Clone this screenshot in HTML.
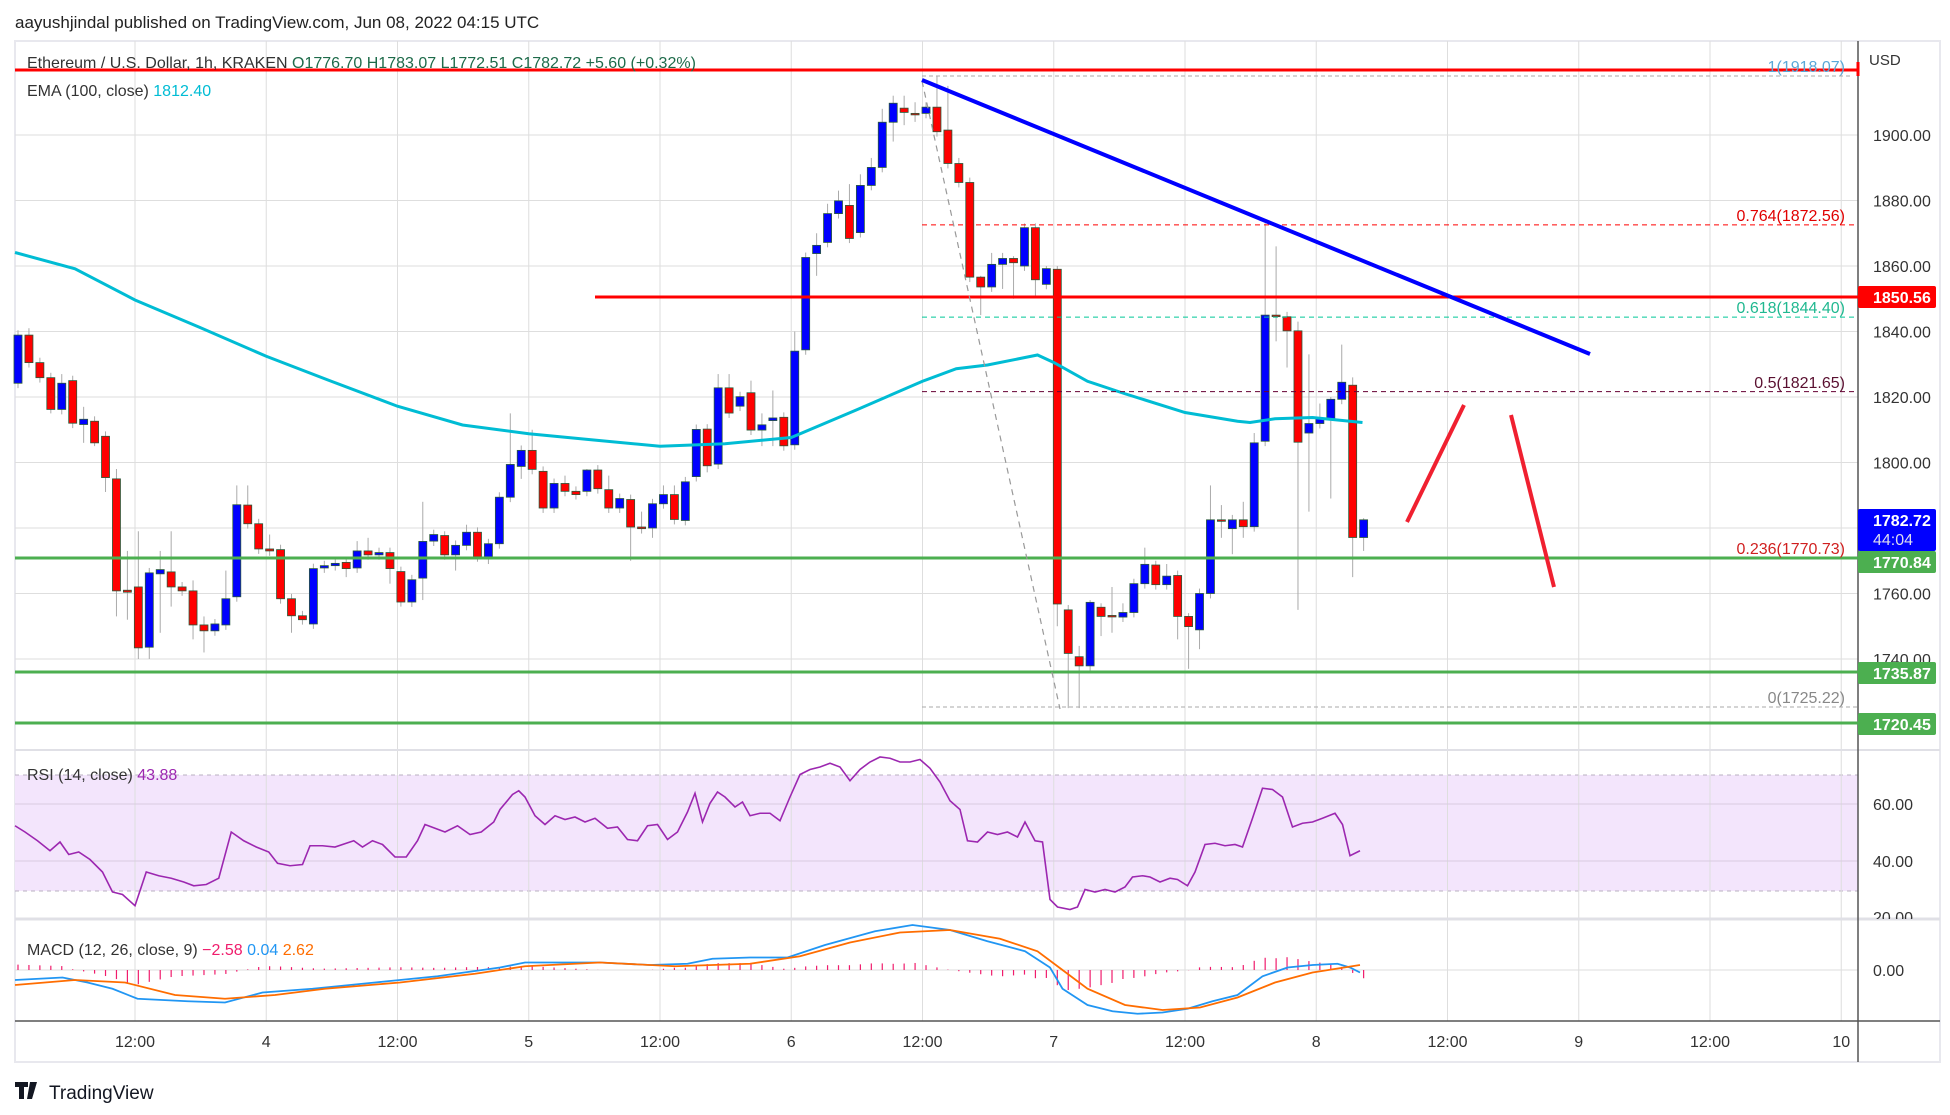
<!DOCTYPE html>
<html><head><meta charset="utf-8"><style>
html,body{margin:0;padding:0;background:#fff;width:1950px;height:1115px;overflow:hidden}
svg{display:block}
text{font-family:"Liberation Sans",sans-serif}
</style></head><body>
<svg id="s" width="1950" height="1115" xmlns="http://www.w3.org/2000/svg"></svg>
<script>
const S=document.getElementById('s');let h='';
const X0=15,AX=1858,RX=1940;
const yP=p=>135+(1900-p)*3.275;
const yR=r=>804+(60-r)*2.85;
const xT=hr=>266.25+hr*10.9375;
function L(x1,y1,x2,y2,c,w,d){h+=`<line x1="${x1}" y1="${y1}" x2="${x2}" y2="${y2}" stroke="${c}" stroke-width="${w||1}" ${d?`stroke-dasharray="${d}"`:''}/>`}
function T(x,y,t,c,sz,a,extra){h+=`<text x="${x}" y="${y}" fill="${c}" font-size="${sz}" ${a?`text-anchor="${a}"`:''} ${extra||''}>${t}</text>`}
// frame
h+=`<rect x="${X0}" y="41" width="${RX-X0}" height="1021" fill="none" stroke="#e8e8ee" stroke-width="2"/>`;
// RSI band
h+=`<rect x="${X0}" y="775" width="${AX-X0}" height="116" fill="#f3e5fc"/>`;
L(X0,775,AX,775,'#b8b0c0',1,'4 4');L(X0,891,AX,891,'#b8b0c0',1,'4 4');
// vertical grid
for(let k=-1;k<=12;k++){const x=xT(k*12);if(x>X0&&x<AX){L(x,41,x,1021,'#dedede',1)}}
// horizontal grid price
for(let p=1740;p<=1900;p+=20)L(X0,yP(p),AX,yP(p),'#dedede',1);
L(X0,804,AX,804,'#d8cce0');L(X0,861,AX,861,'#d8cce0');
L(X0,970,AX,970,'#dedede');
// separators
L(X0,750,RX,750,'#e0e0e6',2);L(X0,919,RX,919,'#e0e0e6',3);
L(X0,1021,RX,1021,'#555',1.5);L(AX,41,AX,1062,'#555',1.5);
// time labels
const tl=['12:00','4','12:00','5','12:00','6','12:00','7','12:00','8','12:00','9','12:00','10'];
tl.forEach((t,i)=>{T(xT(-12+i*12),1047,t,'#333',16,'middle')});
// header
T(15,28,'aayushjindal published on TradingView.com, Jun 08, 2022 04:15 UTC','#222',17);
// candles
const C=[[1824.2,1838.9],[1838.9,1830.5,1841],[1830.5,1825.9],[1825.9,1816.2,0,1815],[1816.2,1824.2,1827],[1825,1812],[1811.6,1813.2,1817,1806],[1812.6,1806,0,1805],[1808,1795.4,0,1791],[1795,1760.8,1798,1753],[1761,1760.4,1773,1752],[1762,1743.4,1779,1740],[1743.6,1766.3,0,1740],[1766,1767.3,1773,1748],[1766.6,1762,1779,1756],[1762,1760.8],[1760.8,1750.4,1764,1746],[1750.4,1748.6,1753,1742],[1748.6,1750.7],[1750.4,1758.4,1767],[1759,1787.1,1793],[1787,1781.3,1793],[1781.3,1773.6],[1773.6,1773,1778],[1773.4,1758.4],[1758.4,1753.2,0,1748],[1753.2,1752],[1750.7,1767.6],[1767.8,1768.5],[1768.5,1769.2],[1769.5,1767.6,0,1765],[1767.8,1773,1776],[1773,1771.8,1777],[1771.8,1772.5],[1772.5,1767.6,0,1763],[1766.7,1757.4,0,1756],[1757.4,1764.2],[1764.7,1775.9,1788,1758],[1776,1778],[1777.7,1771.8,1779],[1771.8,1774.7,0,1767],[1774.7,1778.7,1781],[1778.7,1771.2],[1770.5,1775.2],[1775.2,1789.4],[1789.4,1799.4,1815],[1798.8,1803.7,0,1795],[1803.7,1797.9,1810],[1797.3,1786.1],[1786.1,1793.6],[1793.6,1791.2,1796],[1791.2,1790.2],[1791.2,1797.7,1798],[1797.7,1792],[1791.7,1786.1,1796],[1786.1,1789],[1788.7,1780.3,0,1770],[1780.3,1779.8,1785],[1780,1787.4,0,1777],[1787.4,1790.2,1793],[1790.2,1782.6,1793],[1782.3,1794.1],[1795.7,1810.1],[1810.2,1799,0,1797],[1799.5,1822.8,1827],[1822.8,1815.1,1827],[1817.2,1820.1],[1821.3,1809.9,1825],[1809.9,1811.5,1815,1805],[1812.8,1813.6,1822,1805],[1813.8,1805.1],[1805.4,1834,1840],[1834.4,1862.6],[1863.8,1866.3,1870,1857],[1867.2,1876,1879],[1876,1879.9,1883],[1878.5,1868.4,1885,1867],[1870.2,1884.6,1888],[1884.6,1890.1,1893],[1890.1,1903.9,1908],[1903.9,1909.7,1912,1898],[1908.2,1906.9,1912,1903],[1906.6,1906.4,1910,1904],[1906.6,1908.5],[1908.5,1901,1918],[1901.5,1891.3,1915],[1891.3,1885.5,1893],[1885.5,1856.6,1887],[1856.6,1853.6,1857,1845],[1853.6,1860.5,1864],[1860.5,1862.3,1864,1853],[1862.3,1861,1863,1850],[1860,1871.7,1873],[1871.7,1855.8,1873,1851],[1854.4,1859.2,1860],[1859,1756.8,1860,1750],[1755,1741.7,0,1725],[1740.7,1737.9,1744,1725],[1737.9,1757.3,1758],[1755.8,1753,1757,1747],[1753.3,1753.1,1762,1748],[1752.8,1754.2,1757],[1754.2,1763],[1763,1768.9,1774],[1768.7,1762.7,1770],[1762.7,1765.3,1769],[1765.5,1753,0,1746],[1753,1749.9,1754,1737],[1748.9,1760,0,1743],[1760,1782.5,1793],[1782.5,1782.3,1787,1777],[1779.8,1782.5,1784,1772],[1782.5,1780.4,1788,1777],[1780.4,1806,1809],[1806.5,1845,1873],[1845,1844.6,1866,1837],[1844.5,1840.2,1846,1829],[1840.2,1806.2,1843,1755],[1809,1811.9,1833,1785],[1811.9,1813.4,1818],[1813.4,1819.3,1820,1789],[1819.3,1824.5,1836],[1823.6,1777.1,1826,1765],[1777.1,1782.5,1783,1773]];
C.forEach((c,i)=>{const x=18+i*10.94;const [o,cl]=c;const up=cl>=o;let hi=c[2]||Math.max(o,cl)+1.5,lo=c[3]||Math.min(o,cl)-1.5;
L(x,yP(hi),x,yP(lo),'#aaa',1);
const t=yP(Math.max(o,cl)),b=yP(Math.min(o,cl));
h+=`<rect x="${x-4}" y="${t}" width="8" height="${Math.max(b-t,1.5)}" fill="${up?'#0000ff':'#ff0000'}" stroke="#2a5a3a" stroke-width="0.8"/>`;});
// EMA
const E=[[12,202],[60,215],[108,240],[160,262],[213,285],[265,305],[318,325],[370,340],[423,347],[475,352],[528,357],[580,355],[633,350],[685,328],[738,305],[765,295],[790,292],[830,284],[843,290],[870,305],[900,315],[948,330],[990,337],[1000,338],[1020,335],[1050,334],[1090,338]];
h+=`<polyline fill="none" stroke="#00bcd4" stroke-width="3" points="${E.map(p=>p[0]*1.25+','+p[1]*1.25).join(' ')}"/>`;
// horizontal drawings
L(X0,70,AX,70,'#ff0000',3);L(AX,62,AX,76,'#ff0000',3);
L(922,76,1850,76,'#aaa',1,'4 3');
L(922,yP(1872.56),AX,yP(1872.56),'#ff0000',1,'5 4');
L(922,yP(1844.4),AX,yP(1844.4),'#00c896',1,'5 4');
L(922,yP(1821.65),AX,yP(1821.65),'#660033',1,'5 4');
L(922,707,AX,707,'#aaa',1,'4 3');
L(595,297,AX,297,'#ff0000',3);
L(X0,558,AX,558,'#4caf50',3);L(X0,672,AX,672,'#4caf50',3);L(X0,723,AX,723,'#4caf50',3);
L(922,81,1060,709,'#999',1.2,'6 5');
L(922,80,1590,354,'#0000ff',4);
L(1407,522,1464,405,'#f02030',4);L(1511,415,1554,587,'#f02030',4);
// fib labels
T(1845,72,'1(1918.07)','#5aa8d8',16,'end');
T(1845,221,'0.764(1872.56)','#e00000',16,'end');
T(1845,313,'0.618(1844.40)','#20b890',16,'end');
T(1845,388,'0.5(1821.65)','#5a1030',16,'end');
T(1845,554,'0.236(1770.73)','#d02020',16,'end');
T(1845,703,'0(1725.22)','#888',16,'end');
// legend
h+=`<text x="27" y="68" font-size="16" fill="#333">Ethereum / U.S. Dollar, 1h, KRAKEN  <tspan fill="#1e6b4a">O1776.70</tspan>  <tspan fill="#1e6b4a">H1783.07</tspan>  <tspan fill="#1e6b4a">L1772.51</tspan>  <tspan fill="#1e6b4a">C1782.72</tspan>  <tspan fill="#1e6b4a">+5.60 (+0.32%)</tspan></text>`;
h+=`<text x="27" y="96" font-size="16" fill="#333">EMA (100, close)  <tspan fill="#00bcd4">1812.40</tspan></text>`;
h+=`<text x="27" y="780" font-size="16" fill="#333">RSI (14, close)  <tspan fill="#9c27b0">43.88</tspan></text>`;
h+=`<text x="27" y="955" font-size="16" fill="#333">MACD (12, 26, close, 9)  <tspan fill="#f01c6c">−2.58</tspan>  <tspan fill="#2196f3">0.04</tspan>  <tspan fill="#ff6d00">2.62</tspan></text>`;
// axis labels
T(1869,65,'USD','#333',15);
for(let p=1740;p<=1900;p+=20){if(p==1840||p==1740){}T(1873,yP(p)+6,p.toFixed(2),'#333',16)}
T(1873,yP(1840)+6,'','#333',16);
function tag(y,t,bg,hgt){h+=`<rect x="${AX}" y="${y-hgt/2}" width="78" height="${hgt}" rx="2" fill="${bg}"/>`;T(1873,y+6,t,'#fff',16,null,'font-weight="bold"')}
tag(297,'1850.56','#ff0000',22);
h+=`<rect x="${AX}" y="509" width="78" height="42" rx="2" fill="#0000ff"/>`;T(1873,526,'1782.72','#fff',16,null,'font-weight="bold"');T(1873,545,'44:04','#dde',16);
tag(562,'1770.84','#4caf50',22);tag(673,'1735.87','#4caf50',22);tag(724,'1720.45','#4caf50',22);
T(1873,810,'60.00','#333',16);T(1873,867,'40.00','#333',16);
h+=`<svg x="1860" y="905" width="80" height="14"><text x="13" y="18" font-size="16" fill="#333">20.00</text></svg>`;
T(1873,976,'0.00','#333',16);
// RSI
const R=[[12,663],[20,668],[30,675],[40,683],[48,676],[55,686],[63,684],[72,690],[82,700],[90,716],[98,718],[108,727],[117,700],[127,703],[137,705],[147,708],[155,711],[165,710],[175,705],[185,668],[195,675],[205,680],[215,684],[222,693],[232,695],[242,694],[248,679],[258,679],[268,680],[277,677],[283,675],[290,680],[298,675],[306,678],[316,688],[325,688],[334,675],[340,662],[348,665],[356,668],[366,663],[376,670],[385,668],[395,660],[400,650],[410,638],[415,635],[420,640],[428,655],[436,662],[444,655],[452,658],[460,656],[468,660],[476,657],[486,665],[494,664],[502,674],[510,675],[518,663],[526,662],[534,674],[542,668],[550,652],[556,637],[562,660],[568,645],[574,636],[580,640],[588,648],[594,644],[600,655],[608,653],[616,653],[624,659],[632,640],[640,622],[648,618],[656,616],[664,613],[672,616],[680,627],[688,618],[696,612],[704,608],[712,609],[720,612],[728,612],[736,610],[744,617],[752,628],[760,643],[768,650],[774,675],[782,676],[790,668],[798,670],[806,668],[814,672],[820,660],[828,675],[834,676],[840,722],[846,728],[856,730],[862,728],[868,714],[876,716],[884,714],[892,716],[900,712],[906,704],[914,703],[920,704],[928,708],[936,705],[942,706],[950,711],[956,700],[964,678],[972,677],[980,679],[988,678],[994,680],[1002,657],[1010,633],[1018,634],[1026,640],[1034,664],[1042,661],[1050,660],[1058,657],[1068,653],[1074,662],[1080,687],[1088,683]];
h+=`<polyline fill="none" stroke="#9c27b0" stroke-width="1.6" points="${R.map(p=>p[0]*1.25+','+(p[1]*1.25-3)).join(' ')}"/>`;
// MACD
const M=[[12,788],[50,786],[70,790],[90,795],[110,803],[150,805],[180,806],[210,798],[250,795],[300,790],[350,785],[400,778],[420,774],[480,774],[520,776],[550,775],[570,771],[600,770],[630,770],[660,760],[700,749],[730,744],[760,748],[790,757],[820,765],[840,778],[850,795],[870,808],[890,813],[910,815],[930,814],[950,811],[970,805],[990,800],[1010,785],[1030,778],[1050,776],[1070,775],[1080,778],[1088,782]];
const G=[[12,792],[60,788],[100,790],[140,800],[180,803],[220,800],[260,795],[320,790],[380,783],[420,777],[480,774],[540,777],[600,775],[640,769],[680,758],[720,750],[760,748],[800,755],[830,765],[850,780],[870,795],[900,808],[930,812],[960,810],[990,802],[1020,790],[1050,782],[1088,776]];
function interp(A,x){for(let i=1;i<A.length;i++){if(x<=A[i][0]){const a=A[i-1],b=A[i];return a[1]+(b[1]-a[1])*(x-a[0])/(b[0]-a[0])}}return A[A.length-1][1]}
for(let i=0;i<124;i++){const xd=(18+i*10.94)/1.25;const d=(interp(G,xd)-interp(M,xd))*1.25*1.1;L(18+i*10.94,970,18+i*10.94,970-d,'#f01c6c',1.2)}
h+=`<polyline fill="none" stroke="#2196f3" stroke-width="1.8" points="${M.map(p=>p[0]*1.25+','+(p[1]*1.25-5)).join(' ')}"/>`;
h+=`<polyline fill="none" stroke="#ff6d00" stroke-width="1.8" points="${G.map(p=>p[0]*1.25+','+(p[1]*1.25-5)).join(' ')}"/>`;
// logo
h+=`<path d="M15 1082h13v5h-4v12h-5v-12h-4z M30 1082h7l-5 17h-5z" fill="#131722"/><circle cx="33" cy="1084" r="0" />`;
T(49,1099,'TradingView','#131722',19);
S.innerHTML=h;
</script>
</body></html>
